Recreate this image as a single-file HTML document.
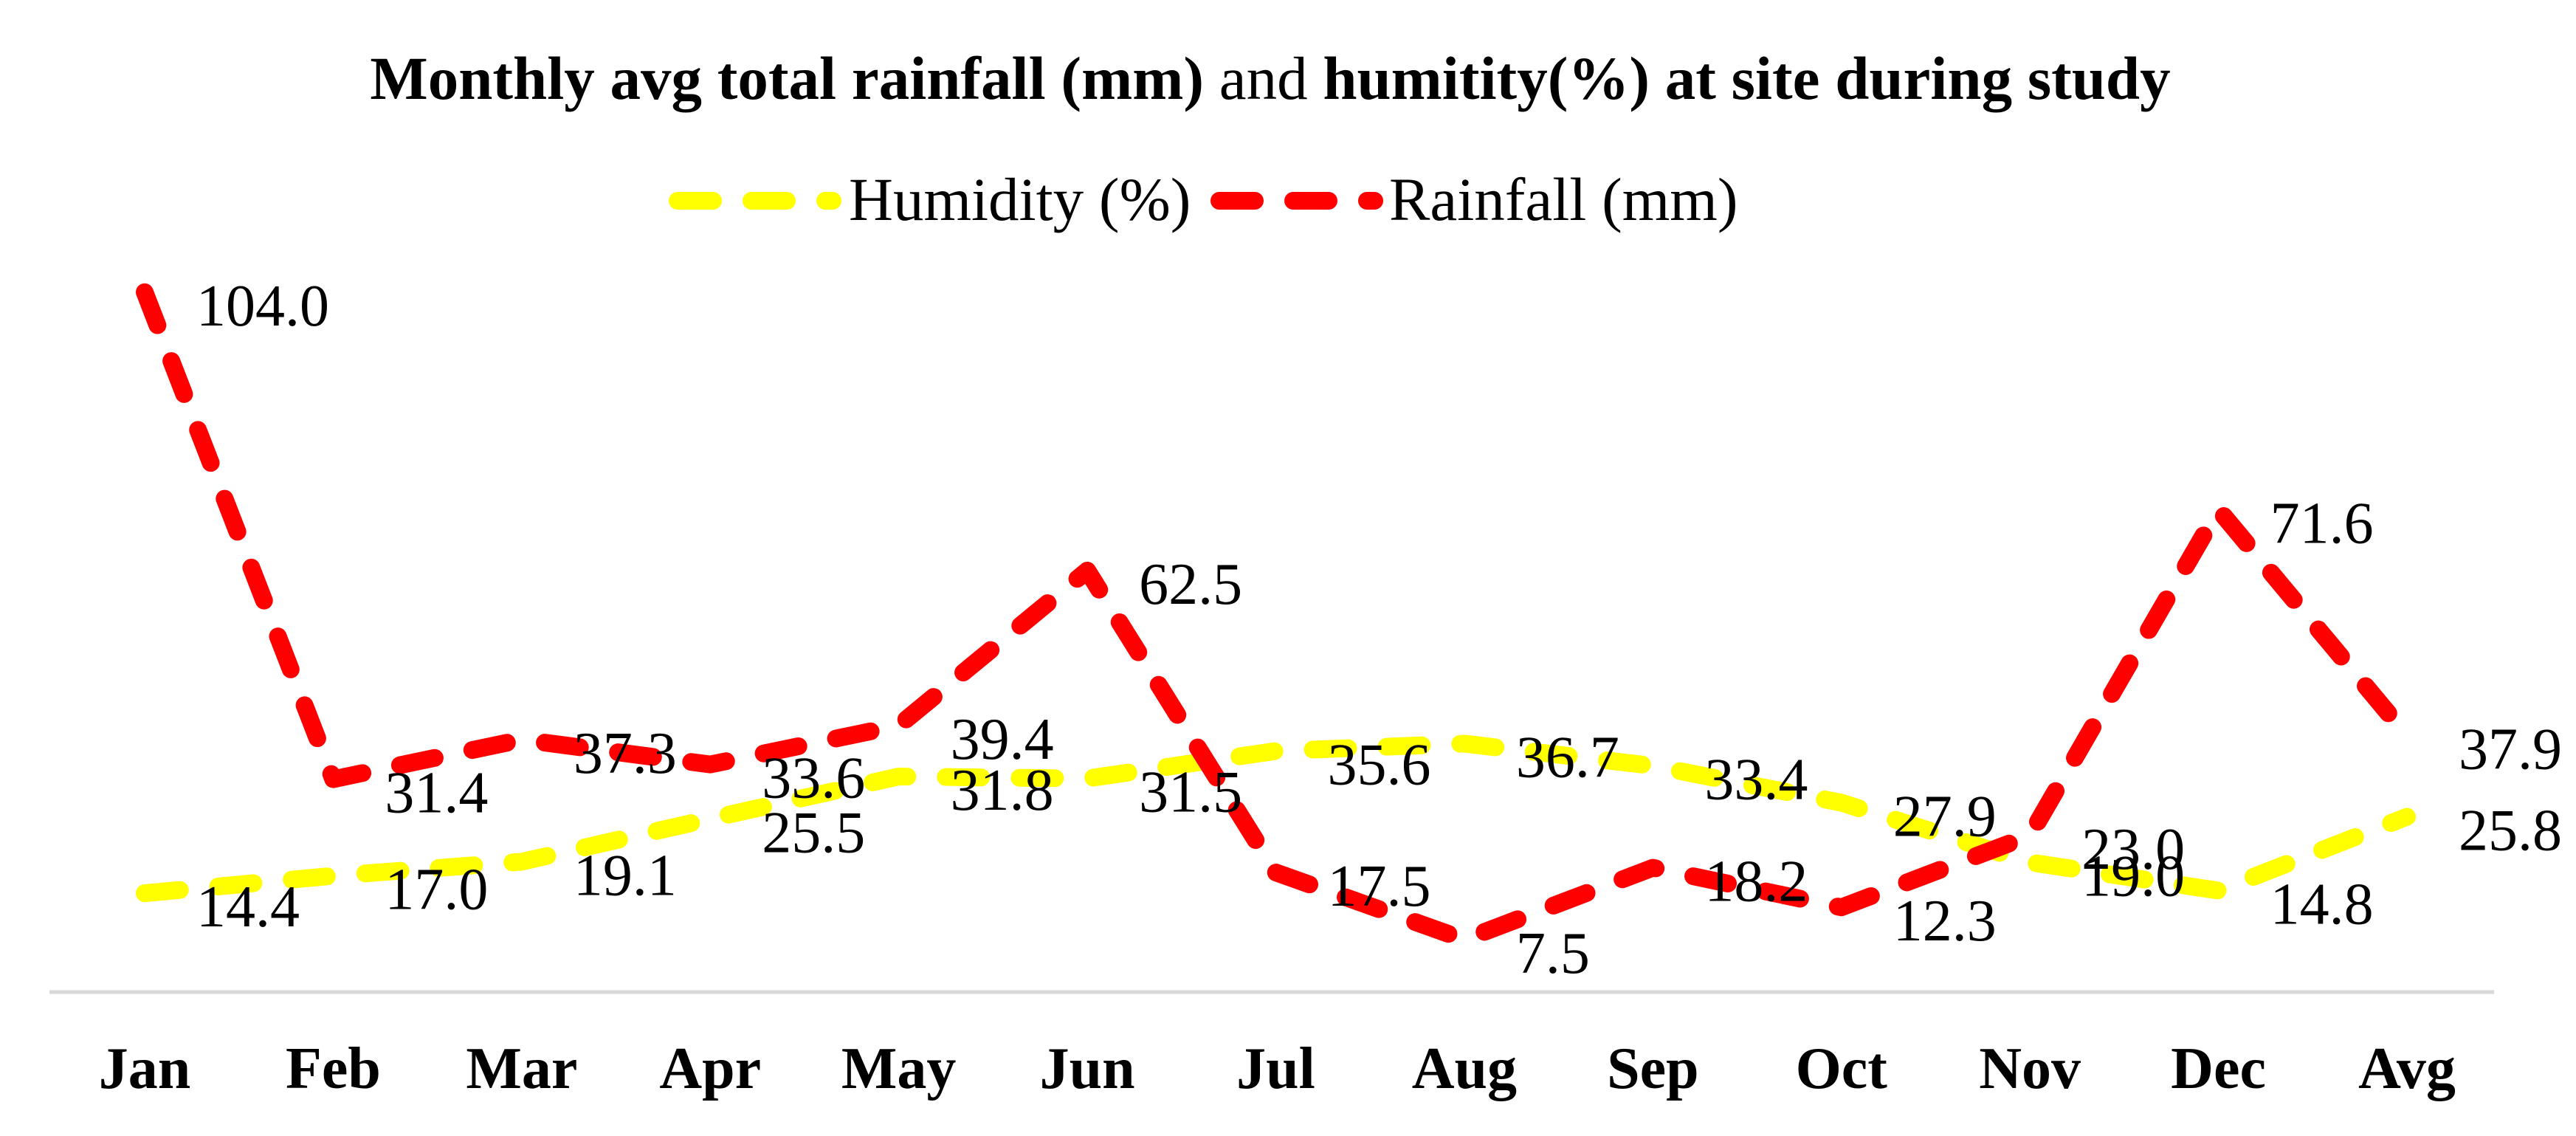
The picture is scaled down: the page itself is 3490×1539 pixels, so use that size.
<!DOCTYPE html>
<html><head><meta charset="utf-8"><style>
html,body{margin:0;padding:0;background:#fff;}
svg{display:block;font-family:"Liberation Serif",serif;}
</style></head><body>
<svg id="chart" width="3490" height="1539" viewBox="0 0 3490 1539" xmlns="http://www.w3.org/2000/svg">
<text x="1721" y="134" text-anchor="middle" font-size="83" font-weight="bold">Monthly avg total rainfall (mm)<tspan font-weight="normal"> and </tspan>humitity(%) at site during study</text>
<g>
<line x1="918" y1="272" x2="1128" y2="272" stroke="#ffff00" stroke-width="24" stroke-linecap="round" stroke-dasharray="48 52"/>
<text x="1150" y="298" font-size="83">Humidity (%)</text>
<line x1="1652" y1="272" x2="1862" y2="272" stroke="#ff0000" stroke-width="24" stroke-linecap="round" stroke-dasharray="48 52"/>
<text x="1882" y="298" font-size="83">Rainfall (mm)</text>
</g>
<line x1="67" y1="1344" x2="3379" y2="1344" stroke="#d9d9d9" stroke-width="5"/>
<g id="xlabels"></g>
<g id="series"></g>
<g id="labels"></g>
</svg>
<script>
const categories = ["Jan","Feb","Mar","Apr","May","Jun","Jul","Aug","Sep","Oct","Nov","Dec","Avg"];
const humidity = [14.4,17.0,19.1,25.5,31.8,31.5,35.6,36.7,33.4,27.9,19.0,14.8,25.8];
const rainfall = [104.0,31.4,37.3,33.6,39.4,62.5,17.5,7.5,18.2,12.3,23.0,71.6,37.9];

const NS = "http://www.w3.org/2000/svg";
const x0 = 196, step = (3261 - 196) / 12;
const yZero = 1341, pxPerUnit = 9.088;
function xScale(i){ return x0 + i * step; }
function yScale(v){ return yZero - v * pxPerUnit; }

const xl = document.getElementById('xlabels');
categories.forEach((c, i) => {
  const t = document.createElementNS(NS, 'text');
  
  
  t.setAttribute('x', xScale(i));
  t.setAttribute('y', 1474);
  t.setAttribute('text-anchor', 'middle');
  t.setAttribute('font-size', '80');
  t.setAttribute('font-weight', 'bold');
  t.textContent = c;
  xl.appendChild(t);
});

const sg = document.getElementById('series');
const lg = document.getElementById('labels');
function drawSeries(vals, color, name){
  const pts = vals.map((v, i) => xScale(i) + ',' + yScale(v)).join(' ');
  const p = document.createElementNS(NS, 'polyline');
  
  
  p.setAttribute('points', pts);
  p.setAttribute('fill', 'none');
  p.setAttribute('stroke', color);
  p.setAttribute('stroke-width', '24');
  p.setAttribute('stroke-linecap', 'round');
  p.setAttribute('stroke-linejoin', 'round');
  p.setAttribute('stroke-dasharray', '48 52');
  sg.appendChild(p);
  vals.forEach((v, i) => {
    const t = document.createElementNS(NS, 'text');
    
    
    t.setAttribute('x', xScale(i) + 70);
    t.setAttribute('y', yScale(v) + 45);
    t.setAttribute('font-size', '80');
    t.textContent = v.toFixed(1);
    lg.appendChild(t);
  });
}
drawSeries(humidity, '#ffff00', 'humidity');
drawSeries(rainfall, '#ff0000', 'rainfall');
</script>
</body></html>
